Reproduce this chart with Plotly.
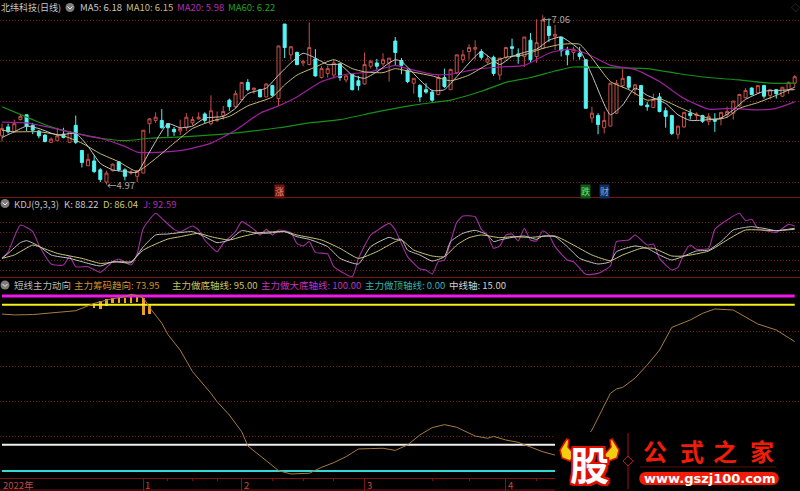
import plotly.graph_objects as go

W, H = 800, 491

# ---- candles ----
opens = [5.57,5.68,5.62,5.77,5.83,5.70,5.63,5.58,5.49,5.51,
 5.59,5.49,5.70,5.39,5.20,5.26,5.15,5.00,5.14,5.25,
 5.15,5.11,5.07,5.11,5.72,5.76,5.76,5.72,5.65,5.63,
 5.67,5.73,5.78,5.84,5.72,5.76,5.82,6.01,5.93,6.02,
 6.23,6.14,6.14,6.05,6.19,6.03,6.95,6.57,6.60,6.47,
 6.45,6.52,6.29,6.34,6.32,6.46,6.26,6.33,6.25,6.21,
 6.43,6.47,6.46,6.47,6.74,6.50,6.38,6.22,6.19,6.14,
 6.11,6.08,6.29,6.14,6.35,6.51,6.61,6.64,6.61,6.48,
 6.54,6.32,6.54,6.67,6.58,6.55,6.75,6.55,6.65,6.92,
 6.80,6.79,6.62,6.60,6.59,6.51,5.79,5.82,5.67,5.69,
 5.85,6.19,6.30,6.14,6.19,5.95,5.92,6.05,5.88,5.82,
 5.59,5.68,5.85,5.82,5.82,5.75,5.77,5.79,5.83,5.85,
 5.94,6.04,6.16,6.10,6.19,6.07,6.14,6.06,6.14,6.22]
closes = [5.66,5.62,5.72,5.81,5.69,5.64,5.57,5.50,5.53,5.57,
 5.55,5.62,5.49,5.24,5.28,5.13,5.03,5.11,5.22,5.15,
 5.07,5.12,5.14,5.64,5.78,5.80,5.67,5.67,5.62,5.66,
 5.80,5.77,5.80,5.76,5.88,5.77,5.87,5.93,6.09,6.23,
 6.14,6.16,6.05,6.21,6.07,6.68,6.66,6.67,6.45,6.49,
 6.66,6.31,6.40,6.40,6.47,6.29,6.31,6.14,6.19,6.45,
 6.49,6.43,6.51,6.53,6.60,6.44,6.24,6.28,6.05,6.11,
 6.01,6.29,6.18,6.39,6.57,6.57,6.66,6.66,6.54,6.52,
 6.34,6.53,6.66,6.65,6.55,6.79,6.51,6.72,7.00,6.81,
 6.82,6.62,6.57,6.64,6.55,5.91,5.85,5.71,5.76,6.22,
 6.22,6.28,6.17,6.20,5.95,5.93,6.02,5.87,5.81,5.60,
 5.69,5.86,5.82,5.84,5.75,5.81,5.75,5.86,5.87,6.00,
 6.08,6.13,6.08,6.19,6.06,6.14,6.09,6.17,6.23,6.30]
highs = [5.72,5.72,5.77,5.84,5.83,5.73,5.64,5.59,5.55,5.67,
 5.67,5.63,5.82,5.39,5.35,5.33,5.17,5.14,5.23,5.25,
 5.17,5.15,5.15,5.64,5.79,5.86,5.90,5.72,5.68,5.77,
 5.85,5.81,5.86,5.86,6.07,5.87,5.94,6.03,6.13,6.23,
 6.27,6.16,6.15,6.22,6.20,6.68,6.95,6.67,6.61,6.51,
 6.97,6.64,6.43,6.44,6.51,6.47,6.32,6.33,6.31,6.60,
 6.51,6.52,6.59,6.53,6.79,6.53,6.40,6.28,6.21,6.22,
 6.14,6.33,6.40,6.40,6.57,6.63,6.70,6.75,6.64,6.57,
 6.56,6.53,6.67,6.77,6.65,6.79,6.84,7.01,7.06,7.02,
 6.94,6.79,6.67,6.67,6.67,6.51,5.93,5.85,5.87,6.22,
 6.26,6.40,6.31,6.21,6.20,5.99,6.09,6.10,5.92,5.83,
 5.69,5.86,5.90,5.86,5.83,5.85,5.85,5.86,5.93,6.00,
 6.09,6.16,6.17,6.19,6.20,6.14,6.14,6.17,6.24,6.32]
lows = [5.50,5.60,5.61,5.76,5.63,5.59,5.54,5.49,5.48,5.51,
 5.54,5.48,5.47,5.18,5.20,5.11,5.00,4.97,5.13,5.13,
 5.02,5.09,5.00,5.11,5.60,5.73,5.66,5.56,5.57,5.58,
 5.63,5.70,5.77,5.72,5.70,5.74,5.77,5.88,5.91,6.01,
 6.12,6.09,6.05,6.05,6.05,5.94,6.53,6.51,6.44,6.43,
 6.44,6.30,6.28,6.29,6.28,6.25,6.23,6.13,6.13,6.20,
 6.40,6.39,6.43,6.24,6.44,6.33,6.22,6.09,5.99,6.09,
 5.99,6.07,6.16,6.14,6.33,6.47,6.51,6.51,6.51,6.46,
 6.31,6.26,6.51,6.55,6.46,6.42,6.47,6.47,6.64,6.73,
 6.63,6.55,6.44,6.51,6.51,5.91,5.73,5.59,5.60,5.69,
 5.84,6.16,6.14,6.07,5.94,5.88,5.91,5.86,5.67,5.58,
 5.53,5.67,5.77,5.76,5.73,5.70,5.62,5.70,5.79,5.77,
 5.93,6.03,6.07,6.09,6.03,6.02,6.03,6.05,6.09,6.17]
days = list(range(len(opens)))

# ---- moving averages (read at sampled days) ----
ma5_x = [0,2,4,6,9,12,14,16,18,20,22,24,27,29,31,33,36,38,40,43,45,47,49,51,53,55,57,59,61,63,64,65,68,70,72,74,77,78,81,83,85,87,89,91,94,96,99,101,103,105,108,110,112,115,117,119,121,124,126,129]
ma5_y = [5.55,5.62,5.69,5.66,5.58,5.60,5.44,5.23,5.15,5.13,5.12,5.37,5.72,5.67,5.69,5.79,5.81,5.91,6.09,6.16,6.32,6.47,6.59,6.53,6.45,6.45,6.32,6.28,6.36,6.47,6.51,6.49,6.26,6.13,6.14,6.30,6.55,6.61,6.45,6.55,6.60,6.64,6.75,6.79,6.63,6.32,5.83,5.95,6.16,6.07,5.97,5.83,5.76,5.77,5.79,5.89,6.02,6.12,6.13,6.14]
ma10_x = [0,2,6,10,13,16,19,22,25,28,31,34,37,40,44,46,48,51,54,57,59,62,64,66,70,73,76,79,82,85,88,91,94,96,99,102,105,107,110,113,116,118,120,123,126,129]
ma10_y = [5.64,5.62,5.62,5.57,5.48,5.35,5.25,5.13,5.29,5.48,5.66,5.75,5.81,5.94,6.05,6.20,6.32,6.42,6.51,6.40,6.36,6.35,6.40,6.37,6.31,6.25,6.32,6.45,6.54,6.57,6.65,6.70,6.70,6.53,6.24,6.14,6.01,6.03,5.93,5.83,5.77,5.80,5.91,5.98,6.07,6.17]
ma20_x = [0,4,8,12,16,20,22,26,30,34,38,42,45,48,52,56,60,64,66,70,73,77,81,85,89,92,95,99,103,107,111,115,119,123,126,129]
ma20_y = [5.74,5.73,5.67,5.60,5.54,5.44,5.37,5.37,5.40,5.48,5.64,5.85,5.94,6.05,6.24,6.33,6.36,6.44,6.40,6.33,6.33,6.39,6.42,6.44,6.59,6.64,6.59,6.44,6.39,6.24,6.03,5.90,5.91,5.89,5.91,5.99]
ma60_x = [0,5,8,12,16,20,24,30,36,45,50,55,60,64,68,73,78,82,86,90,93,100,105,110,115,120,125,129]
ma60_y = [5.93,5.77,5.68,5.60,5.54,5.51,5.54,5.56,5.59,5.67,5.73,5.77,5.85,5.91,5.96,6.01,6.12,6.23,6.29,6.37,6.42,6.41,6.40,6.34,6.29,6.26,6.22,6.22]

# ---- KDJ ----
j_x = [0,1,3,5,6,8,10,11,12,14,16,18,19,21,22,23,25,26,28,29,31,32,33,35,36,38,39,41,42,43,44,45,47,48,49,50,51,53,54,57,58,60,61,63,64,66,68,69,70,71,72,74,75,77,78,79,80,81,82,83,84,85,86,87,88,89,90,92,93,95,97,99,100,102,103,105,106,107,109,110,111,112,113,115,116,118,120,121,122,123,126,128,129]
j_y = [24.6,38.7,95.1,81,52.8,12.7,10.5,28.2,7,7,-5,17.6,23.2,10.5,35.2,88,119.8,109.2,85.9,81,93,84.5,63.4,38.7,56.3,81,102.2,85.9,74,85.9,74,84.5,78.9,56.3,50.7,59.9,37.3,33.8,7,-14.1,24.6,74,83.1,98.6,84.5,28.2,2.1,0,-8.5,17.6,21.1,100.7,114.1,112.7,85.9,74,45.8,50.7,74,76.1,61.3,88,63.4,61.3,83.1,74,49.3,21.1,17.6,-9.2,-7.1,8.4,59.9,63.4,74,52.8,54.9,24.6,0,5.6,35.2,52.8,43.7,45.8,85.9,105.7,119.8,104.3,107.1,88,79.6,96.5,92.59]
k_x = [0,1,3,4,6,8,11,13,16,18,21,23,25,27,31,33,35,37,39,41,43,46,48,50,53,55,58,60,63,64,65,66,68,70,72,73,75,77,79,80,81,83,85,87,88,90,92,94,97,99,100,103,105,107,109,111,113,115,117,119,121,122,124,126,129]
k_y = [24.6,35.2,57.8,62,50.7,31.7,24.6,17.6,8.4,17.6,15.5,49.3,74,76.1,81,70.4,57.8,63.4,83.1,78.9,77.5,81,70.4,64.8,49.3,24.6,12.7,49.3,69,64.8,64.8,42.2,31.7,19,28.2,59.9,77.5,83.8,74,59.9,63.4,69,71.8,64.8,71.8,70.4,49.3,24.6,12.7,17.6,38.7,50.7,45.8,31.7,21.1,29.6,40.1,42.2,59.9,84.5,90.2,91.6,88,83.1,88.22]
d_x = [0,2,5,6,9,13,16,19,21,23,27,29,32,34,37,39,42,46,48,52,55,58,61,64,65,67,70,72,74,76,78,81,83,86,90,93,96,99,101,104,106,109,111,115,118,121,126,129]
d_y = [24.6,31.7,52.8,49.3,35.2,24.6,14,17.6,17.6,42.2,65.5,70.4,77.5,70.4,63.4,70.4,78.9,81,74,63.4,45.8,24.6,38.7,59.9,63.4,42.2,29.6,28.2,52.8,68.3,74,68.3,70.4,69,71.8,52.8,31.7,19.7,31.7,45.8,45.8,29.6,29.6,40.1,63.4,84.5,83.1,86.04]

# ---- short-term main-force indicator ----
trend_x = [0,2,5,8,12,15,18,20,21,22,23,24,25,26,27,29,31,34,35,37,39,40,43,45,47,50,52,54,56,58,60,62,64,66,68,70,72,74,77,79,80,82,84,86,88,90,92,94,96,99,100,101,103,105,107,109,112,114,116,119,121,123,126,129]
trend_y = [89.7,89.2,89.4,90.5,91.6,95.8,98.5,99.5,101,100.2,99,93.5,89,84.5,78,69.1,56.8,44.4,39.6,32,22.5,14.3,5.9,0.2,-1.7,-1.3,2.1,4.8,8.2,12.6,12.8,13,11.8,14.9,20.6,24.8,26.5,25,20,18.7,19.8,17.7,16.4,13.9,11,9.1,8,14,23.4,44.4,46.9,47.8,53,60.6,69.1,82.1,86.3,90.1,92.6,92,88.2,84,80.6,73.95]
bar_x = [15,16,17,18,19,20,21,22,23,24]
bar_top = [95.8,97.1,98.3,98.7,99,99,101,100.2,99,95.2]
bar_bottom = [93,92.6,94.5,95.8,95.8,95.8,95.8,96.4,89.1,89.5]
level_names = ["主力做大底轴线","主力做底轴线","中线轴","主力做顶轴线"]
level_vals = [100,95,15,0]
level_cols = ["#f018e8","#f8f018","#f0f0f0","#30d8d8"]

price_grid = [5,5.5,6,6.5,7]
kdj_grid = [0,20,50,80,100]
trend_grid = [20,40,60,80]
month_ticks = [23,39,59,82]
month_labels = ["1","2","3","4"]
minor_ticks = [27,31,35,44,49,54,70,76,87]

RED = "#c85048"
CYAN = "#54f4f4"
GRID = "#7a2020"
BORDER = "#7c1414"
CJK = "Noto Sans CJK SC"

def px(x): return x / W
def py(y): return 1 - y / H

fig = go.Figure()

fig.add_trace(go.Candlestick(x=days, open=opens, high=highs, low=lows, close=closes,
    increasing=dict(line=dict(color=RED, width=1), fillcolor="#000000"),
    decreasing=dict(line=dict(color=CYAN, width=1), fillcolor=CYAN),
    whiskerwidth=0, name="K", showlegend=False, yaxis="y"))
for xs, ys, c, w, n in [(ma60_x, ma60_y, "#189018", 1.2, "MA60"), (ma20_x, ma20_y, "#a020a0", 1.2, "MA20"),
                     (ma10_x, ma10_y, "#c8bc78", 1, "MA10"), (ma5_x, ma5_y, "#c8c8c8", 1, "MA5")]:
    fig.add_trace(go.Scatter(x=xs, y=ys, mode="lines", line=dict(color=c, width=w, shape="spline", smoothing=0.5),
                             name=n, showlegend=False, yaxis="y"))

for xs, ys, c, w, n in [(j_x, j_y, "#a030a0", 1.1, "J"), (d_x, d_y, "#c8c878", 1, "D"), (k_x, k_y, "#c4c4c4", 1, "K")]:
    fig.add_trace(go.Scatter(x=xs, y=ys, mode="lines", line=dict(color=c, width=w, shape="spline", smoothing=0.5),
                             name=n, showlegend=False, yaxis="y2"))

for name, v, c, w in zip(level_names, level_vals, level_cols, [3.2, 2, 2, 2]):
    fig.add_trace(go.Scatter(x=[days[0], days[-1]], y=[v, v], mode="lines", line=dict(color=c, width=w),
                             name=name, showlegend=False, yaxis="y3"))
fig.add_trace(go.Bar(x=bar_x, y=[t - b for t, b in zip(bar_top, bar_bottom)], base=bar_bottom,
                     width=0.4, marker=dict(color="#f0a020", line=dict(width=0)), name="bars",
                     showlegend=False, yaxis="y3"))
fig.add_trace(go.Scatter(x=trend_x, y=trend_y, mode="lines", line=dict(color="#a87c40", width=1),
                         name="主力筹码趋向", showlegend=False, yaxis="y3"))

# ---- layout text ----
anns = []
def T(x, y, s, color, size=9.5, anchor="left", bold=False, family=CJK, **kw):
    anns.append(dict(xref="paper", yref="paper", x=px(x), y=py(y), text=("<b>%s</b>" % s if bold else s),
                     showarrow=False, xanchor=anchor, yanchor="middle",
                     font=dict(color=color, size=size, family=family), borderpad=0, **kw))

T(0, 7.5, "北纬科技(日线)", "#c8c8c8", 9)
T(79, 7.5, "MA5: 6.18", "#c8c8c8", 9.5)
T(125, 7.5, "MA10: 6.15", "#c8bc78", 9.5)
T(176, 7.5, "MA20: 5.98", "#b030b0", 9.5)
T(227, 7.5, "MA60: 6.22", "#20a020", 9.5)
T(13, 203.5, "KDJ(9,3,3)", "#c0c0c0", 9.5)
T(63, 203.5, "K: 88.22", "#c8c8c8", 9.5)
T(102, 203.5, "D: 86.04", "#c8c878", 9.5)
T(142, 203.5, "J: 92.59", "#b030b0", 9.5)
T(13, 285, "短线主力动向", "#b8b8b8", 9.5)
T(73, 285, "主力筹码趋向: 73.95", "#d09030", 9.5)
T(171, 285, "主力做底轴线: 95.00", "#c8c060", 9.5)
T(260, 285, "主力做大底轴线: 100.00", "#c030c0", 9.5)
T(364, 285, "主力做顶轴线: 0.00", "#30b0b0", 9.5)
T(448, 285, "中线轴: 15.00", "#d0d0d0", 9.5)
T(106, 185, "←4.97", "#a8a8a8", 9.5)
T(541, 19, "←7.06", "#a8a8a8", 9.5)

# signal badges
for x, s, bg, fg in [(279, "涨", "#701414", "#e88878"), (585, "跌", "#0f5a1c", "#70e070"), (604, "财", "#12305c", "#80a8e0")]:
    anns.append(dict(xref="paper", yref="paper", x=px(x), y=py(191.5), text=s, showarrow=False,
                     xanchor="center", yanchor="middle", bgcolor=bg, borderpad=0,
                     font=dict(color=fg, size=9, family=CJK)))
T(795, 7, "◇", "#505050", 9, anchor="center")

# date strip
T(2, 484.5, "2022年", "#c04848", 9.5)
for v, s in zip(month_ticks, month_labels):
    anns.append(dict(xref="x", yref="paper", x=v, y=py(484.5), text=s, showarrow=False, xanchor="left",
                     xshift=0, yanchor="middle", font=dict(color="#c04848", size=9.5, family=CJK)))

# watermark
T(655, 450, "公", "#f01c08", 24, anchor="center", bold=True)
T(692, 450, "式", "#f01c08", 24, anchor="center", bold=True)
T(725, 450, "之", "#f01c08", 24, anchor="center", bold=True)
T(762, 450, "家", "#f01c08", 24, anchor="center", bold=True)
T(709, 478.5, "www.gszj100.com", "#ffffff", 13, anchor="center", bold=True, family="DejaVu Sans")
anns.append(dict(xref="paper", yref="paper", x=px(589), y=py(463), text="<b>股</b>", showarrow=False,
                 xanchor="center", yanchor="middle",
                 font=dict(color="#ffffff", size=39, family=CJK,
                           shadow="2px 0 0 #e01000,-2px 0 0 #e01000,0 2px 0 #e01000,0 -2px 0 #e01000,2px 2px 0 #e01000,-2px -2px 0 #e01000,2px -2px 0 #e01000,-2px 2px 0 #e01000")))

# ---- shapes ----
shapes = []
def hline(y, color, x0=0, x1=W, width=1):
    shapes.append(dict(type="line", xref="paper", yref="paper", x0=px(x0), x1=px(x1), y0=py(y), y1=py(y),
                       line=dict(color=color, width=width), layer="above"))
hline(197.5, BORDER)
hline(277.5, BORDER)
hline(490, BORDER)
def vline(x, y0, y1, color, width=1):
    shapes.append(dict(type="line", xref="paper", yref="paper", x0=px(x), x1=px(x), y0=py(y0), y1=py(y1),
                       line=dict(color=color, width=width), layer="above"))
def path(points, fill, line, width=1):
    d = "M" + " L".join("%.5f,%.5f" % (px(a), py(b)) for a, b in points) + " Z"
    shapes.append(dict(type="path", xref="paper", yref="paper", path=d, fillcolor=fill,
                       line=dict(color=line, width=width), layer="above"))
def icon(cx, cy):
    shapes.append(dict(type="circle", xref="paper", yref="paper", x0=px(cx-4.5), x1=px(cx+4.5), y0=py(cy+4.5), y1=py(cy-4.5),
                       fillcolor="#7c7c7c", line=dict(width=0), layer="above"))
    shapes.append(dict(type="path", xref="paper", yref="paper",
                       path="M%.5f,%.5f L%.5f,%.5f L%.5f,%.5f" % (px(cx-2.5), py(cy-1), px(cx), py(cy+1.5), px(cx+2.5), py(cy-1)),
                       line=dict(color="#ececec", width=1), layer="above"))
icon(70, 7.5); icon(5, 203.5); icon(5, 285)

# watermark backdrop
shapes.append(dict(type="rect", xref="paper", yref="paper", x0=px(555), x1=1, y0=0, y1=py(432),
                   fillcolor="#000000", line=dict(width=0), layer="above"))
path([(566.7,439),(560,450),(562,458),(570,461),(575,455),(568,447),(569,440)], "#f0d010", "#e01000", 1.5)
path([(612.3,439),(619,450),(617,458),(609,461),(604,455),(611,447),(610,440)], "#f0d010", "#e01000", 1.5)
vline(628, 433, 489, "#a01410")
path([(628,456),(633,461),(628,466),(623,461)], "#000000", "#c01410")
hline(467, "#581008", 640, 776, 1.2)
shapes.append(dict(type="path", xref="paper", yref="paper", fillcolor="#f01c08", line=dict(width=0), layer="above",
    path="M%.5f,%.5f L%.5f,%.5f C%.5f,%.5f %.5f,%.5f %.5f,%.5f L%.5f,%.5f C%.5f,%.5f %.5f,%.5f %.5f,%.5f Z" % (
        px(646), py(472), px(772), py(472),
        px(781), py(472), px(781), py(485), px(772), py(485),
        px(646), py(485),
        px(637), py(485), px(637), py(472), px(646), py(472))))

axis_common = dict(showline=False, zeroline=False, showticklabels=False, ticks="",
                   showgrid=True, gridcolor=GRID, griddash="1px,2px", gridwidth=1, fixedrange=True, anchor="x")

fig.update_layout(
    width=W, height=H, margin=dict(l=0, r=0, t=0, b=0),
    paper_bgcolor="#000000", plot_bgcolor="#000000", showlegend=False, bargap=0,
    xaxis=dict(domain=[0, 1], range=[-0.325, 129.86], anchor="y3", rangeslider=dict(visible=False),
               showgrid=False, zeroline=False, showline=True, linecolor=BORDER, linewidth=1,
               tickmode="array", tickvals=month_ticks, ticktext=[""] * 4, ticks="outside", ticklen=12,
               tickcolor=BORDER, tickwidth=1, showticklabels=False, fixedrange=True,
               minor=dict(tickmode="array", tickvals=minor_ticks, ticks="outside", ticklen=2, tickcolor=BORDER)),
    yaxis=dict(domain=[py(197), 1], range=[4.815, 7.247], tickmode="array", tickvals=price_grid, **axis_common),
    yaxis2=dict(domain=[py(277), py(197)], range=[-14.8, 154.3], tickmode="array", tickvals=kdj_grid, **axis_common),
    yaxis3=dict(domain=[py(478), py(278)], range=[-4, 110.3], tickmode="array", tickvals=trend_grid, **axis_common),
    annotations=anns, shapes=shapes,
)

fig.write_html("out.html", config=dict(displayModeBar=False),
               post_script="document.body.style.margin='0';document.body.style.background='#000';")
